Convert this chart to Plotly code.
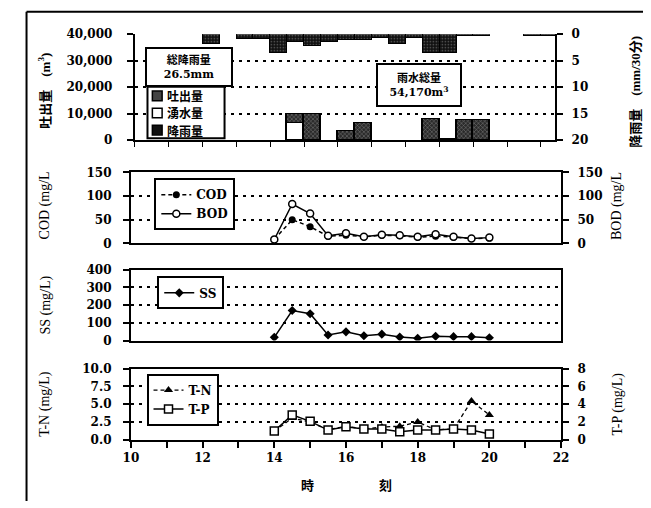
import plotly.graph_objects as go

W, H = 651, 508


def px(x):
    return x / W


def py(y):
    return 1 - y / H


# ---------------- data ----------------
rain_start = [12.0, 13.0, 13.5, 14.0, 14.5, 15.0, 15.5, 16.0, 16.5, 17.0,
              17.5, 18.0, 18.5, 19.0, 19.5, 20.0, 21.5, 22.0]
rain_mm = [1.8, 0.9, 0.9, 3.6, 1.5, 2.3, 1.5, 1.2, 1.2, 0.7,
           1.8, 0.7, 3.6, 3.6, 0.3, 0.3, 0.4, 0.4]

discharge_start = [14.5, 15.0, 16.0, 16.5, 18.5, 19.0, 19.5, 20.0]
discharge_m3 = [3700, 10000, 3300, 6300, 8100, 250, 7400, 7400]

spring_start = [14.5]
spring_m3 = [6300]

wq_time = [14.0, 14.5, 15.0, 15.5, 16.0, 16.5, 17.0, 17.5, 18.0, 18.5, 19.0, 19.5, 20.0]
cod = [8, 50, 35, 15, 17, 14, 17, 16, 13, 15, 13, 10, 11]
bod = [8, 83, 63, 16, 21, 14, 18, 17, 14, 19, 14, 10, 12]
ss = [18, 169, 151, 31, 49, 27, 36, 20, 13, 24, 22, 22, 16]
tn = [1.2, 3.05, 2.5, 1.4, 1.9, 1.5, 1.8, 1.9, 2.5, 1.4, 1.5, 5.45, 3.5]
tp = [0.98, 2.8, 2.07, 1.09, 1.45, 1.2, 1.2, 0.91, 1.09, 1.09, 1.2, 1.09, 0.65]

x_ticks = [10, 12, 14, 16, 18, 20, 22]

bar_names = ["吐出量", "湧水量", "降雨量"]
bar_colors = ["#444444", "white", "#111111"]

SERIF = "DejaVu Serif, Noto Sans CJK JP"
CJK = "Noto Sans CJK JP"
GRID_DASH = "3px,5px"

fig = go.Figure()

# ---------------- panel 1 : bars ----------------
fig.add_trace(go.Bar(
    x=spring_start, y=spring_m3, offset=0, width=0.5, name=bar_names[1],
    marker=dict(color=bar_colors[1], line=dict(color="black", width=1.5)),
    xaxis="x", yaxis="y", showlegend=False))
fig.add_trace(go.Bar(
    x=discharge_start, y=discharge_m3, offset=0, width=0.5, name=bar_names[0],
    marker=dict(color=bar_colors[0], line=dict(color="black", width=1.5),
                pattern=dict(shape="x", bgcolor="#2a2a2a", fgcolor="#d0d0d0",
                             size=3, solidity=0.3)),
    xaxis="x", yaxis="y", showlegend=False))
fig.add_trace(go.Bar(
    x=rain_start, y=rain_mm, offset=0, width=0.5, name=bar_names[2],
    marker=dict(color=bar_colors[2], line=dict(color="black", width=1),
                pattern=dict(shape=".", bgcolor="#111", fgcolor="#bbbbbb",
                             size=3, solidity=0.2)),
    xaxis="x", yaxis="y2", showlegend=False))

# ---------------- panel 2 : COD / BOD ----------------
fig.add_trace(go.Scatter(
    x=wq_time, y=cod, mode="lines+markers", name="COD",
    line=dict(color="black", width=1.5, dash="4px,3px"),
    marker=dict(symbol="circle", size=7, color="black"),
    xaxis="x2", yaxis="y3", legend="legend2"))
fig.add_trace(go.Scatter(
    x=wq_time, y=bod, mode="lines+markers", name="BOD",
    line=dict(color="black", width=1.5),
    marker=dict(symbol="circle", size=7, color="white",
                line=dict(color="black", width=1.5)),
    xaxis="x2", yaxis="y4", legend="legend2"))

# ---------------- panel 3 : SS ----------------
fig.add_trace(go.Scatter(
    x=wq_time, y=ss, mode="lines+markers", name="SS",
    line=dict(color="black", width=1.5),
    marker=dict(symbol="diamond", size=7, color="black"),
    xaxis="x3", yaxis="y5", legend="legend3"))

# ---------------- panel 4 : T-N / T-P ----------------
fig.add_trace(go.Scatter(
    x=wq_time, y=tn, mode="lines+markers", name="T-N",
    line=dict(color="black", width=1.3, dash="4px,3px"),
    marker=dict(symbol="triangle-up", size=8, color="black"),
    xaxis="x4", yaxis="y6", legend="legend4"))
fig.add_trace(go.Scatter(
    x=wq_time, y=tp, mode="lines+markers", name="T-P",
    line=dict(color="black", width=1.5),
    marker=dict(symbol="square", size=8, color="white",
                line=dict(color="black", width=1.5)),
    xaxis="x4", yaxis="y7", legend="legend4"))

# ---------------- axes ----------------
tickfont = dict(family=SERIF, size=12, color="black", weight="bold")
X_DOM = [px(126), px(567)]


def yax(standoff):
    return dict(showline=True, linecolor="black", linewidth=2, ticks="outside",
                ticklen=6, tickcolor="black", tickwidth=1.5, tickfont=tickfont,
                zeroline=False, ticklabelstandoff=standoff)


grid = dict(showgrid=True, gridcolor="black", gridwidth=1.5, griddash=GRID_DASH)

layout = dict(
    width=W, height=H, margin=dict(l=0, r=0, t=0, b=0),
    paper_bgcolor="white", plot_bgcolor="rgba(0,0,0,0)",
    font=dict(family=SERIF, size=12, color="black"),
    barmode="stack", bargap=0,
    showlegend=True,
    # panel 1
    xaxis=dict(domain=[px(130), px(561)], range=[10, 22.42], anchor="y",
               showline=True, linecolor="black", linewidth=2, ticks="outside",
               tick0=10, dtick=1, ticklen=5, tickcolor="black",
               showticklabels=False, showgrid=False, zeroline=False),
    yaxis=dict(domain=[py(137), py(28)], range=[0, 40000], dtick=10000,
               tickformat=",", anchor="x", **yax(12), **grid),
    yaxis2=dict(overlaying="y", side="right", anchor="x", range=[20, 0],
                dtick=5, showgrid=False, **yax(6)),
    # panel 2
    xaxis2=dict(domain=X_DOM, range=[10, 22], anchor="y3", showline=True,
                mirror=True, linecolor="black", linewidth=2,
                showticklabels=False, showgrid=False, zeroline=False),
    yaxis3=dict(domain=[py(243), py(170)], range=[0, 150], dtick=50,
                anchor="x2", **yax(9), **grid),
    yaxis4=dict(overlaying="y3", side="right", anchor="x2", range=[0, 150],
                dtick=50, showgrid=False, **yax(6)),
    # panel 3
    xaxis3=dict(domain=X_DOM, range=[10, 22], anchor="y5", showline=True,
                mirror=True, linecolor="black", linewidth=2,
                showticklabels=False, showgrid=False, zeroline=False),
    yaxis5=dict(domain=[py(343), py(270)], range=[0, 400], dtick=100,
                anchor="x3", mirror=True, **yax(9), **grid),
    # panel 4
    xaxis4=dict(domain=X_DOM, range=[10, 22], anchor="y6", showline=True,
                mirror=True, linecolor="black", linewidth=2,
                tickmode="array", tickvals=x_ticks,
                ticks="outside", ticklen=6, tickcolor="black", tickwidth=1.5,
                minor=dict(dtick=1, tick0=10, ticks="outside", ticklen=6,
                           tickcolor="black", tickwidth=1.5),
                tickfont=tickfont, showgrid=False, zeroline=False),
    yaxis6=dict(domain=[py(445), py(372)], range=[0, 10], dtick=2.5,
                tickformat=".1f", anchor="x4", **yax(9), **grid),
    yaxis7=dict(overlaying="y6", side="right", anchor="x4", range=[0, 8],
                dtick=2, showgrid=False, **yax(6)),
)

legend_common = dict(bgcolor="white", bordercolor="black", borderwidth=2,
                     xanchor="left", yanchor="top", itemwidth=30,
                     tracegroupgap=0, traceorder="normal")
layout["legend2"] = dict(x=px(150), y=py(176),
                         font=dict(family=SERIF, size=12, color="black", weight="bold"),
                         **legend_common)
layout["legend3"] = dict(x=px(153), y=py(277),
                         font=dict(family=SERIF, size=12, color="black", weight="bold"),
                         **legend_common)
layout["legend4"] = dict(x=px(142), y=py(377),
                         font=dict(family=SERIF, size=12, color="black", weight="bold"),
                         **legend_common)

fig.update_layout(**layout)

# ---------------- panel 1 legend (compact box) ----------------
fig.add_shape(type="rect", xref="paper", yref="paper",
              x0=px(143), x1=px(222), y0=py(135), y1=py(82),
              line=dict(color="black", width=2), fillcolor="white", layer="above")
for i, (name, col) in enumerate(zip(bar_names, bar_colors)):
    yc = 91.5 + i * 17.5
    fig.add_shape(type="rect", xref="paper", yref="paper",
                  x0=px(148), x1=px(158), y0=py(yc + 5), y1=py(yc - 5),
                  line=dict(color="black", width=1.5), fillcolor=col, layer="above")
    fig.add_annotation(x=px(162), y=py(yc), xref="paper", yref="paper",
                       text=name, showarrow=False, xanchor="left", yanchor="middle",
                       height=15, valign="middle", borderpad=0,
                       font=dict(family=CJK, size=12, color="black", weight="bold"))

# ---------------- text annotations ----------------
title_font = dict(family="Liberation Serif, Noto Sans CJK JP", size=14, color="black")
cjk_title_font = dict(family="Liberation Serif, Noto Sans CJK JP", size=13,
                      color="black", weight="bold")
ann = [
    dict(x=px(37), y=py(86), text="吐出量　(m<sup>3</sup>)", textangle=-90,
         font=cjk_title_font),
    dict(x=px(643), y=py(87), text="降雨量　(mm/30分)", textangle=-90,
         font=cjk_title_font),
    dict(x=px(38), y=py(204), text="COD (mg/L", textangle=-90, font=title_font),
    dict(x=px(625), y=py(205), text="BOD (mg/L", textangle=-90, font=title_font),
    dict(x=px(38), y=py(307), text="SS (mg/L)", textangle=-90, font=title_font),
    dict(x=px(38), y=py(408), text="T-N (mg/L)", textangle=-90, font=title_font),
    dict(x=px(625), y=py(408), text="T-P (mg/L)", textangle=-90, font=title_font),
    dict(x=px(347), y=py(491), text="時　　　　　刻",
         font=dict(family=CJK, size=13, color="black", weight="bold")),
    dict(x=px(186), y=py(62), text="総降雨量<br>26.5mm",
         font=dict(family="DejaVu Serif, Noto Sans CJK JP", size=11,
                   color="black", weight="bold"),
         bgcolor="white", bordercolor="black", borderwidth=2, borderpad=4,
         width=76),
    dict(x=px(421), y=py(80), text="雨水総量<br>54,170m<sup>3</sup>",
         font=dict(family="DejaVu Serif, Noto Sans CJK JP", size=11,
                   color="black", weight="bold"),
         bgcolor="white", bordercolor="black", borderwidth=2, borderpad=6,
         width=70),
]
for a in ann:
    a.setdefault("xref", "paper")
    a.setdefault("yref", "paper")
    a.setdefault("showarrow", False)
    a.setdefault("xanchor", "center")
    a.setdefault("yanchor", "middle")
    fig.add_annotation(**a)

# outer frame (top and left edges)
fig.add_shape(type="line", xref="paper", yref="paper", x0=px(19), x1=1,
              y0=py(5), y1=py(5), line=dict(color="black", width=2))
fig.add_shape(type="line", xref="paper", yref="paper", x0=px(19), x1=px(19),
              y0=py(5), y1=0, line=dict(color="black", width=2))

fig.write_html("out.html")
